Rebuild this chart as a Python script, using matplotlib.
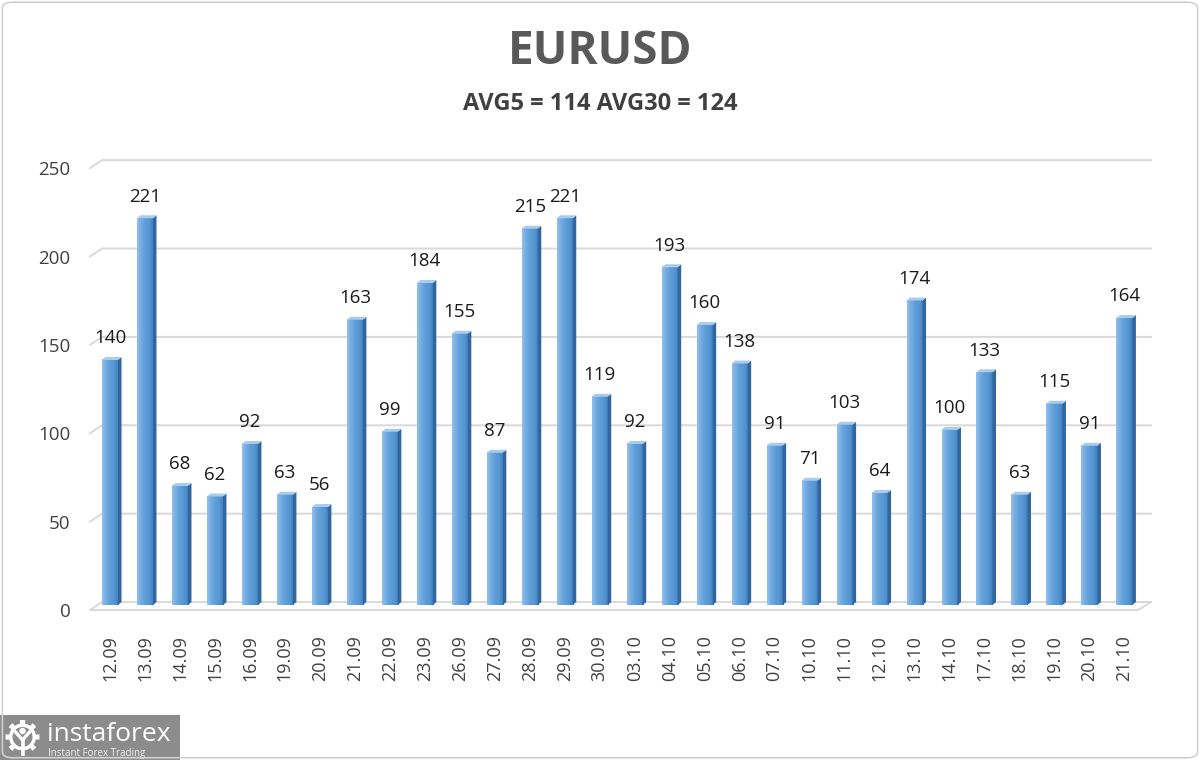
import numpy as np
import matplotlib.pyplot as plt
from matplotlib.patches import Polygon, Rectangle, FancyBboxPatch, Circle
from matplotlib.colors import LinearSegmentedColormap

# data
dates = ["12.09", "13.09", "14.09", "15.09", "16.09", "19.09", "20.09", "21.09",
         "22.09", "23.09", "26.09", "27.09", "28.09", "29.09", "30.09", "03.10",
         "04.10", "05.10", "06.10", "07.10", "10.10", "11.10", "12.10", "13.10",
         "14.10", "17.10", "18.10", "19.10", "20.10", "21.10"]
values = [140, 221, 68, 62, 92, 63, 56, 163, 99, 184, 155, 87, 215, 221, 119,
          92, 193, 160, 138, 91, 71, 103, 64, 174, 100, 133, 63, 115, 91, 164]
y_ticks = [0, 50, 100, 150, 200, 250]
title = "EURUSD"
subtitle = "AVG5 = 114 AVG30 = 124"

plt.rcParams["font.family"] = ["Open Sans", "DejaVu Sans"]

# fake 3d geometry
HALF = 0.229          # half width of the bar front face
DX, DY = 0.10, 1.7    # depth offset of bar side / top
GK = 1.01             # wall scale
FRONT0, BACK0 = -2.86, 1.7
X_FRONT, X_BACK = -0.572, -0.229
XMAX = 29.76
X_FLOOR_END = 29.39
GRID_C = "#d9d9d9"

bar_cmap = LinearSegmentedColormap.from_list(
    "bar", ["#93c0ec", "#72abe0", "#5e9dd7", "#5595d1", "#3f7ebd"])

fig = plt.figure(figsize=(12, 7.6), dpi=100)
fig.patch.set_facecolor("white")

ax = fig.add_axes([90 / 1200, 1 - 610.25 / 760, 1061 / 1200, 451.5 / 760])
ax.set_facecolor("none")
for s in ax.spines.values():
    s.set_visible(False)

# back wall grid + floor
for t in y_ticks:
    yf = t * GK + FRONT0
    yb = t * GK + BACK0
    ax.plot([X_FRONT, X_BACK, XMAX], [yf, yb, yb], color=GRID_C, lw=1.4,
            zorder=1, clip_on=False)
    if t == 0:
        ax.plot([X_FRONT, X_FLOOR_END, XMAX], [yf, yf, yb], color=GRID_C,
                lw=1.4, zorder=1, clip_on=False)

grad = np.linspace(0, 1, 64).reshape(1, -1)
for i, v in enumerate(values):
    l, r = i - HALF, i + HALF
    ax.imshow(grad, extent=[l, r, 0, v], aspect="auto", cmap=bar_cmap,
              interpolation="bicubic", zorder=3)
    side = Polygon([[r, 0], [r + DX, DY], [r + DX, v + DY], [r, v]],
                   closed=True, facecolor="#31679e", edgecolor="none", zorder=3)
    top = Polygon([[l, v], [r, v], [r + DX, v + DY], [l + DX, v + DY]],
                  closed=True, facecolor="#a8cbee", edgecolor="none", zorder=3)
    ax.add_patch(side)
    ax.add_patch(top)
    ax.annotate(str(v), xy=(i, v + DY), xytext=(0, 7), textcoords="offset points",
                ha="center", va="bottom", fontsize=13.5, color="#1a1a1a", zorder=4)

ax.set_xlim(X_FRONT, XMAX)
ax.set_ylim(-3, 255)

ax.set_yticks([t * GK + FRONT0 for t in y_ticks], [str(t) for t in y_ticks])
ax.tick_params(axis="y", length=0, pad=14, labelsize=13.5, labelcolor="#404040")
ax.set_xticks(range(len(dates)), dates, rotation=90)
ax.tick_params(axis="x", length=0, pad=18, labelsize=13, labelcolor="#404040")

fig.text(0.5, 1 - 52 / 760, title, ha="center", va="center", fontsize=33,
         fontweight="bold", color="#595959")
fig.text(0.5, 1 - 104 / 760, subtitle, ha="center", va="center", fontsize=17,
         fontweight="bold", color="#404040")

# outer border
fig.patches.append(FancyBboxPatch((0.002, 0.003), 0.996, 0.994,
                                  boxstyle="round,pad=0,rounding_size=0.008",
                                  transform=fig.transFigure, facecolor="none",
                                  edgecolor="#d0d0d0", lw=1.2))

# logo
lg = fig.add_axes([0, 0, 180 / 1200, 45 / 760])
lg.set_xlim(0, 180)
lg.set_ylim(0, 45)
lg.set_axis_off()
lg.add_patch(Rectangle((0, 0), 180, 45, facecolor="#8c8c8c", edgecolor="none"))
th = np.linspace(0, 2 * np.pi, 400)
rr = np.where(np.cos(8 * th) > 0.2, 17, 13.5)
lg.add_patch(Polygon(np.c_[22.5 + rr * np.cos(th), 23 + rr * np.sin(th)],
                     facecolor="white", edgecolor="none"))
lg.add_patch(Circle((22.5, 23), 10, facecolor="#8c8c8c", edgecolor="none"))
lg.add_patch(Rectangle((19, 4), 7, 6, facecolor="#8c8c8c", edgecolor="none"))
lg.add_patch(Circle((22.5, 29), 3.2, facecolor="white", edgecolor="none"))
lg.plot([15.5, 22.5, 29.5], [28, 20, 28], color="white", lw=2.4)
lg.plot([22.5, 22.5], [20, 6], color="white", lw=2.6)
lg.text(47, 19, "instaforex", ha="left", va="baseline", fontsize=19,
        color="white")
lg.text(48, 4, "Instant Forex Trading", ha="left", va="baseline", fontsize=7,
        color="#f2f2f2")

fig.savefig("out.png", dpi=100)
